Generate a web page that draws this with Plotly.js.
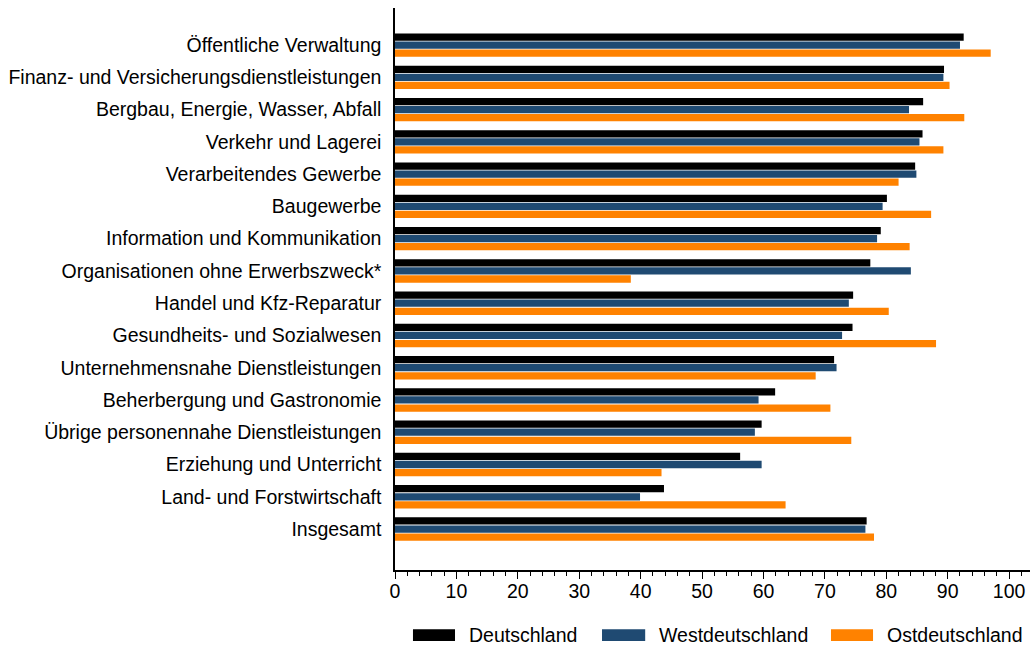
<!DOCTYPE html>
<html>
<head>
<meta charset="utf-8">
<script src="https://cdn.plot.ly/plotly-3.0.1.min.js"></script>
<style>html,body{margin:0;padding:0;background:#fff;}#chart{width:1031px;height:647px;}</style>
</head>
<body>
<div id="chart"></div>
<script>
const categories = [
  "Öffentliche Verwaltung",
  "Finanz- und Versicherungsdienstleistungen",
  "Bergbau, Energie, Wasser, Abfall",
  "Verkehr und Lagerei",
  "Verarbeitendes Gewerbe",
  "Baugewerbe",
  "Information und Kommunikation",
  "Organisationen ohne Erwerbszweck*",
  "Handel und Kfz-Reparatur",
  "Gesundheits- und Sozialwesen",
  "Unternehmensnahe Dienstleistungen",
  "Beherbergung und Gastronomie",
  "Übrige personennahe Dienstleistungen",
  "Erziehung und Unterricht",
  "Land- und Forstwirtschaft",
  "Insgesamt"
];
const deutschland =     [92.6, 89.4, 86.0, 85.9, 84.7, 80.1, 79.1, 77.4, 74.6, 74.5, 71.5, 61.9, 59.7, 56.2, 43.8, 76.8];
const westdeutschland = [92.0, 89.3, 83.7, 85.4, 84.9, 79.4, 78.5, 84.0, 73.9, 72.8, 71.9, 59.2, 58.6, 59.7, 39.9, 76.6];
const ostdeutschland =  [97.0, 90.3, 92.7, 89.3, 82.0, 87.3, 83.8, 38.4, 80.4, 88.1, 68.5, 70.9, 74.3, 43.4, 63.6, 78.0];
const seriesNames = ["Deutschland", "Westdeutschland", "Ostdeutschland"];
const xTicks = [0, 10, 20, 30, 40, 50, 60, 70, 80, 90, 100];

const colors = ["#000000", "#1F4A72", "#FF8200"];
const seriesData = [deutschland, westdeutschland, ostdeutschland];
const FONT = "Liberation Sans, Arial, sans-serif";
const FS = 19.5;

const traces = seriesData.map((vals, i) => ({
  type: "bar",
  orientation: "h",
  name: seriesNames[i],
  y: categories,
  x: vals,
  marker: {color: colors[i], line: {width: 0}},
  showlegend: false,
  hoverinfo: "x+y+name"
}));

// custom legend (swatches + labels) at the bottom
const legendPos = [
  {x0: 0.0283, x1: 0.0945, tx: 0.1134},
  {x0: 0.326, x1: 0.394, tx: 0.4126},
  {x0: 0.6866, x1: 0.7528, tx: 0.7717}
];
const shapes = seriesNames.map((n, i) => ({
  type: "rect", xref: "paper", yref: "paper",
  x0: legendPos[i].x0, x1: legendPos[i].x1, y0: -0.1055, y1: -0.1265,
  fillcolor: colors[i], line: {width: 0}
}));
const annotations = seriesNames.map((n, i) => ({
  xref: "paper", yref: "paper", x: legendPos[i].tx, y: -0.116,
  xanchor: "left", yanchor: "middle", showarrow: false,
  text: n, font: {family: FONT, size: FS, color: "#000"}
}));

const n = categories.length;
const layout = {
  width: 1031, height: 647,
  margin: {l: 395, r: 1, t: 8, b: 77},
  paper_bgcolor: "#fff", plot_bgcolor: "#fff",
  font: {family: FONT, size: FS, color: "#000"},
  barmode: "group",
  bargap: 0.25,
  bargroupgap: 0.1,
  xaxis: {
    range: [0, 103.4],
    tickvals: xTicks,
    ticktext: xTicks.map(String),
    ticks: "outside", ticklen: 7, tickwidth: 1, tickcolor: "#000",
    ticklabelstandoff: -4,
    minor: {dtick: 2, ticks: "outside", ticklen: 4, tickwidth: 1, tickcolor: "#000", showgrid: false},
    showline: true, linecolor: "#000", linewidth: 1.5,
    showgrid: false, zeroline: false,
    tickfont: {family: FONT, size: FS, color: "#000"}
  },
  yaxis: {
    type: "category",
    categoryorder: "array", categoryarray: categories,
    range: [n - 1 + 1.27, -1.15],
    showline: true, linecolor: "#000", linewidth: 1.5,
    ticks: "", showgrid: false, zeroline: false,
    ticklabelstandoff: 8,
    tickfont: {family: FONT, size: FS, color: "#000"}
  },
  shapes: shapes,
  annotations: annotations,
  showlegend: false
};

Plotly.newPlot("chart", traces, layout, {displayModeBar: false, staticPlot: false});
</script>
</body>
</html>
